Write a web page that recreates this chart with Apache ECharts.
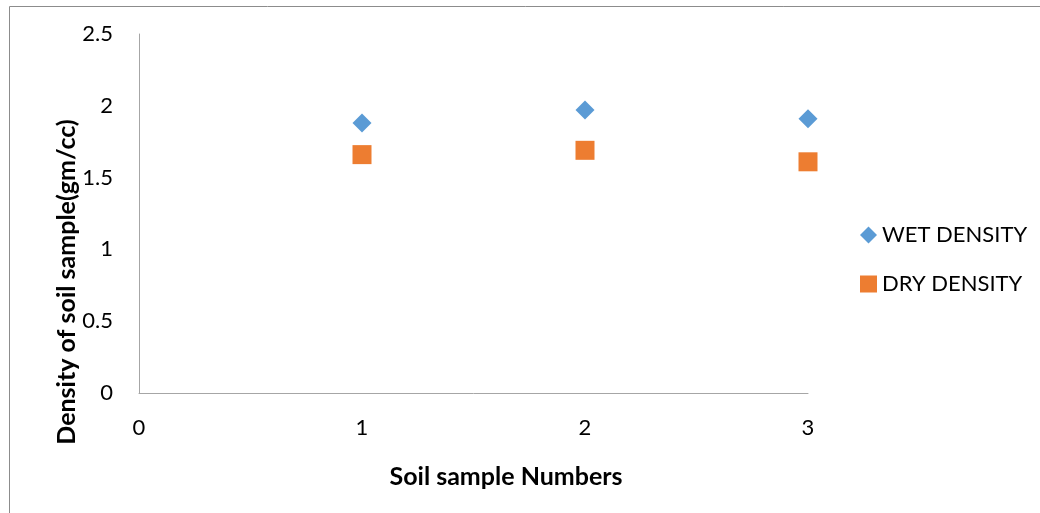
<!DOCTYPE html>
<html>
<head>
<meta charset="utf-8">
<script src="https://cdn.jsdelivr.net/npm/echarts@6/dist/echarts.min.js"></script>
<style>
html,body{margin:0;padding:0;background:#fff;}
#main{width:1040px;height:513px;}
</style>
</head>
<body>
<div id="main"></div>
<script>
var sampleNumbers = [1, 2, 3];
var wetDensity = [1.88, 1.97, 1.91];
var dryDensity = [1.66, 1.69, 1.61];
var seriesNames = ['WET DENSITY', 'DRY DENSITY'];
var xTitle = 'Soil sample Numbers';
var yTitle = 'Density of soil sample(gm/cc)';

var FONT = 'Lato';
var chart = echarts.init(document.getElementById('main'), null, {renderer: 'canvas'});
function pairs(xs, ys) { return xs.map(function (x, i) { return [x, ys[i]]; }); }

chart.setOption({
  animation: false,
  backgroundColor: '#fff',
  grid: {left: 139, right: 232, top: 34, bottom: 120, containLabel: false},
  xAxis: {
    type: 'value', min: 0, max: 3, interval: 1,
    axisLine: {show: true, onZero: false, lineStyle: {color: '#a6a6a6', width: 1}},
    axisTick: {show: false},
    splitLine: {show: false},
    axisLabel: {color: '#000', fontFamily: FONT, fontSize: 22, margin: 24}
  },
  yAxis: {
    type: 'value', min: 0, max: 2.5, interval: 0.5,
    axisLine: {show: true, lineStyle: {color: '#a6a6a6', width: 1}},
    axisTick: {show: false},
    splitLine: {show: false},
    axisLabel: {color: '#000', fontFamily: FONT, fontSize: 22, margin: 26}
  },
  legend: {
    orient: 'vertical', left: 855, top: 219, itemGap: 27,
    itemWidth: 17, itemHeight: 17,
    textStyle: {color: '#000', fontFamily: FONT, fontSize: 22},
    data: [
      {name: seriesNames[0], icon: 'diamond'},
      {name: seriesNames[1], icon: 'rect'}
    ]
  },
  graphic: [
    {type: 'rect', left: 7, top: 4, shape: {x: 0, y: 0, width: 1100, height: 600}, style: {fill: 'none', stroke: '#8c8c8c', lineWidth: 1}, silent: true, z: -1},
    {type: 'text', x: 506, y: 477, style: {text: xTitle, fill: '#000', font: 'bold 25px Lato', textAlign: 'center', textVerticalAlign: 'middle'}},
    {type: 'text', x: 67, y: 282, rotation: Math.PI / 2, style: {text: yTitle, fill: '#000', font: 'bold 25px Lato', textAlign: 'center', textVerticalAlign: 'middle'}}
  ],
  series: [
    {name: seriesNames[0], type: 'scatter', symbol: 'diamond', symbolSize: 19,
     itemStyle: {color: '#5b9bd5', opacity: 1}, data: pairs(sampleNumbers, wetDensity)},
    {name: seriesNames[1], type: 'scatter', symbol: 'rect', symbolSize: 19,
     itemStyle: {color: '#ed7d31', opacity: 1}, data: pairs(sampleNumbers, dryDensity)}
  ]
});
</script>
</body>
</html>
